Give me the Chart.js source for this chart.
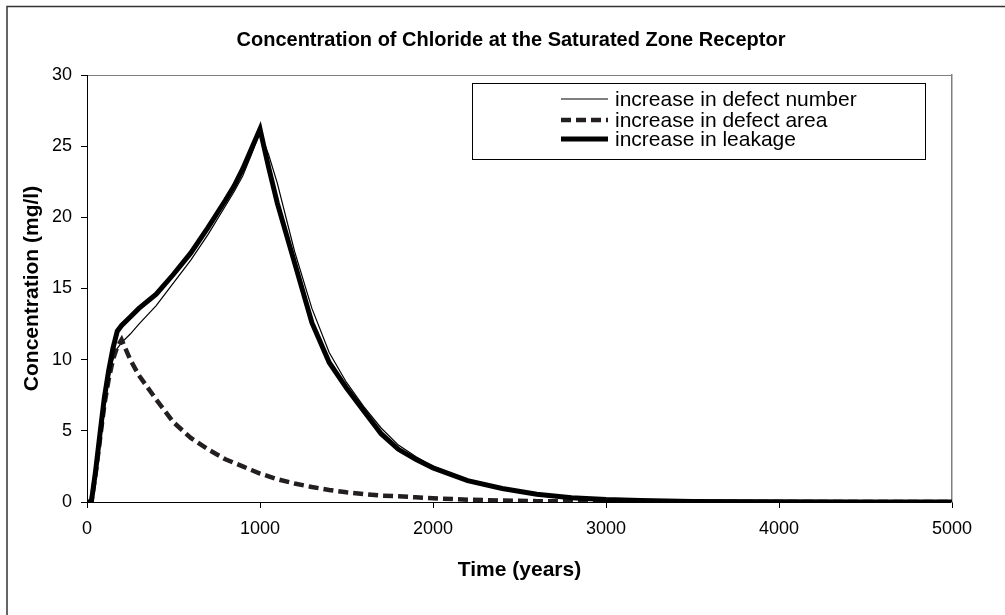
<!DOCTYPE html>
<html>
<head>
<meta charset="utf-8">
<title>Concentration of Chloride at the Saturated Zone Receptor</title>
<script src="https://cdn.jsdelivr.net/npm/chart.js@4.4.1/dist/chart.umd.min.js"></script>
<style>
  html, body { margin: 0; padding: 0; background: #fff; }
  #wrap { width: 1005px; height: 615px; }
</style>
</head>
<body>
<div id="wrap"><canvas id="mycanvas" width="1005" height="615"></canvas></div>
<script>
// time (years)
var years = [0, 25, 50, 75, 100, 125, 150, 175, 200, 250, 300, 400, 500, 600, 700, 800, 850, 900, 950, 1000,
             1050, 1100, 1200, 1300, 1400, 1500, 1600, 1700, 1800, 1900, 2000, 2200, 2400, 2600, 2800,
             3000, 3200, 3500, 4000, 4500, 5000];

// concentration (mg/l)
var defectNumber = [0, 0, 2.0, 4.4, 6.8, 8.6, 10.0, 10.8, 11.2, 11.8, 12.5, 13.8, 15.4, 17.0, 18.8, 20.8, 21.8, 22.9, 24.4, 26.0,
                    24.4, 22.4, 17.6, 13.6, 10.5, 8.4, 6.7, 5.2, 4.0, 3.2, 2.5, 1.6, 1.0, 0.6, 0.33,
                    0.18, 0.1, 0.04, 0.01, 0, 0];
var defectArea = [0, 0, 2.0, 4.4, 6.8, 8.6, 10.0, 10.9, 11.4, 10.0, 8.9, 7.2, 5.6, 4.5, 3.7, 3.0, 2.75, 2.5, 2.25, 2.0,
                  1.8, 1.6, 1.3, 1.05, 0.85, 0.68, 0.55, 0.45, 0.4, 0.33, 0.26, 0.16, 0.1, 0.06, 0.04,
                  0.02, 0.01, 0, 0, 0, 0];
var leakage = [0, 0, 2.2, 4.8, 7.3, 9.2, 10.8, 12.0, 12.4, 13.0, 13.6, 14.6, 16.0, 17.5, 19.3, 21.2, 22.2, 23.4, 24.8, 26.2,
               23.5, 21.0, 16.8, 12.6, 9.8, 8.0, 6.4, 4.8, 3.7, 3.0, 2.4, 1.5, 0.95, 0.55, 0.3,
               0.17, 0.1, 0.04, 0.01, 0, 0];

var xTicks = [0, 1000, 2000, 3000, 4000, 5000];
var yTicks = [0, 5, 10, 15, 20, 25, 30];

function toPoints(values) {
    var pts = [];
    for (var i = 0; i < years.length; i++) {
        pts.push({x: years[i], y: values[i]});
    }
    return pts;
}

Chart.defaults.font.family = "'Liberation Sans', Arial, sans-serif";
Chart.defaults.color = '#000';

// outer frame (only left and top edges show)
var outerFrame = {
    id: 'outerFrame',
    beforeDraw: function (chart) {
        var ctx = chart.ctx;
        ctx.save();
        ctx.strokeStyle = '#333';
        ctx.lineWidth = 1.5;
        ctx.beginPath();
        ctx.moveTo(7, 615);
        ctx.lineTo(7, 6.5);
        ctx.lineTo(1005, 6.5);
        ctx.stroke();
        ctx.restore();
    }
};

// boxed legend inside the plot
var boxLegend = {
    id: 'boxLegend',
    afterDraw: function (chart) {
        var ctx = chart.ctx;
        var rows = [99, 120, 139];
        ctx.save();
        ctx.fillStyle = '#fff';
        ctx.fillRect(472, 83, 454, 77);
        ctx.strokeStyle = '#000';
        ctx.lineWidth = 1;
        ctx.strokeRect(472.5, 83.5, 453, 76);
        chart.data.datasets.forEach(function (ds, i) {
            ctx.beginPath();
            ctx.setLineDash(ds.borderDash || []);
            ctx.strokeStyle = ds.borderColor;
            ctx.lineWidth = ds.borderWidth;
            ctx.moveTo(561, rows[i]);
            ctx.lineTo(608, rows[i]);
            ctx.stroke();
            ctx.setLineDash([]);
            ctx.fillStyle = '#000';
            ctx.font = "21px 'Liberation Sans', Arial, sans-serif";
            ctx.textBaseline = 'middle';
            ctx.textAlign = 'left';
            ctx.fillText(ds.label, 615, rows[i] + 1);
        });
        ctx.restore();
    }
};

var ctx = document.getElementById('mycanvas');
var chart = new Chart(ctx, {
    type: 'line',
    data: {
        datasets: [
            {
                label: 'increase in defect number',
                data: toPoints(defectNumber),
                borderColor: '#000',
                borderWidth: 1.2,
                pointRadius: 0,
                tension: 0,
                order: 3
            },
            {
                label: 'increase in defect area',
                data: toPoints(defectArea),
                borderColor: '#231f20',
                borderWidth: 4.5,
                borderDash: [10, 5],
                pointRadius: 0,
                tension: 0,
                order: 2
            },
            {
                label: 'increase in leakage',
                data: toPoints(leakage),
                borderColor: '#000',
                borderWidth: 5,
                pointRadius: 0,
                tension: 0,
                order: 1
            }
        ]
    },
    options: {
        responsive: false,
        devicePixelRatio: 1,
        animation: false,
        layout: {
            padding: {left: 17, right: 0, top: 0, bottom: 0}
        },
        plugins: {
            legend: {display: false},
            tooltip: {enabled: false},
            title: {
                display: true,
                text: 'Concentration of Chloride at the Saturated Zone Receptor',
                font: {size: 20, weight: 'bold'},
                color: '#000',
                padding: {top: 28, bottom: 23}
            }
        },
        scales: {
            x: {
                type: 'linear',
                position: 'bottom',
                min: 0,
                max: 5000,
                afterBuildTicks: function (scale) {
                    scale.ticks = xTicks.map(function (v) { return {value: v}; });
                },
                afterFit: function (scale) { scale.height = 113; },
                ticks: {
                    font: {size: 18},
                    padding: 10,
                    maxRotation: 0,
                    callback: function (value) { return String(value); }
                },
                grid: {color: 'rgba(0,0,0,0)', tickColor: '#000', tickLength: 6},
                border: {color: '#000', width: 1},
                title: {
                    display: true,
                    text: 'Time (years)',
                    font: {size: 21, weight: 'bold'},
                    padding: {top: 0, bottom: 32}
                }
            },
            y: {
                type: 'linear',
                position: 'left',
                min: 0,
                max: 30,
                afterBuildTicks: function (scale) {
                    scale.ticks = yTicks.map(function (v) { return {value: v}; });
                },
                afterFit: function (scale) { scale.width = 70; },
                ticks: {font: {size: 18}, padding: 9},
                grid: {
                    color: function (c) {
                        return c.tick && c.tick.value === 30 ? '#808080' : 'rgba(0,0,0,0)';
                    },
                    tickColor: '#000',
                    tickLength: 6
                },
                border: {color: '#000', width: 1},
                title: {
                    display: true,
                    text: 'Concentration (mg/l)',
                    font: {size: 21, weight: 'bold'},
                    padding: {top: 3, bottom: 0}
                }
            },
            y2: {
                type: 'linear',
                position: 'right',
                display: true,
                afterFit: function (scale) { scale.width = 53; },
                ticks: {display: false},
                grid: {display: false},
                border: {color: '#808080', width: 1.5}
            }
        }
    },
    plugins: [outerFrame, boxLegend]
});
</script>
</body>
</html>
